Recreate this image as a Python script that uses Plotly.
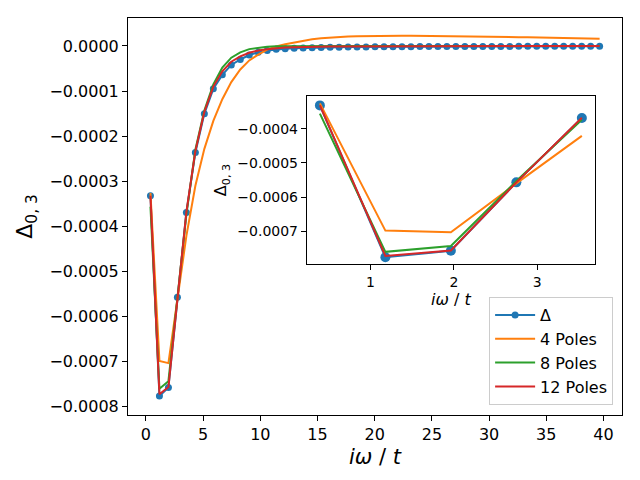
import numpy as np
import plotly.graph_objects as go

# Matsubara frequencies, beta = 8  ->  w_n = (2n+1)*pi/8, n = 0..50
n = np.arange(51)
omega = (2 * n + 1) * np.pi / 8

delta = [-3.32e-4, -7.76e-4, -7.57e-4, -5.57e-4, -3.69e-4, -2.36e-4, -1.50e-4, -9.5e-5, -6.4e-5, -4.2e-5,
         -3.0e-5, -2.0e-5, -1.4e-5, -1.0e-5, -7.5e-6, -6.0e-6, -5.0e-6, -4.3e-6, -3.8e-6, -3.4e-6,
         -3.0e-6, -2.7e-6, -2.5e-6, -2.3e-6, -2.1e-6, -1.9e-6, -1.8e-6, -1.7e-6, -1.6e-6, -1.5e-6,
         -1.4e-6, -1.35e-6, -1.3e-6, -1.25e-6, -1.2e-6, -1.15e-6, -1.1e-6, -1.05e-6, -1.0e-6, -0.95e-6,
         -0.9e-6, -0.87e-6, -0.84e-6, -0.81e-6, -0.78e-6, -0.75e-6, -0.72e-6, -0.69e-6, -0.66e-6, -0.63e-6,
         -0.6e-6]
poles4 = [-3.26e-4, -6.98e-4, -7.03e-4, -5.60e-4, -4.21e-4, -3.10e-4, -2.28e-4, -1.66e-4, -1.18e-4, -8.0e-5,
          -5.2e-5, -3.2e-5, -1.9e-5, -8.0e-6, -1.0e-6, 4.0e-6, 8.0e-6, 1.2e-5, 1.5e-5, 1.72e-5,
          1.88e-5, 2.0e-5, 2.1e-5, 2.15e-5, 2.2e-5, 2.22e-5, 2.24e-5, 2.25e-5, 2.25e-5, 2.25e-5,
          2.24e-5, 2.23e-5, 2.21e-5, 2.19e-5, 2.17e-5, 2.15e-5, 2.12e-5, 2.09e-5, 2.06e-5, 2.03e-5,
          2.0e-5, 1.96e-5, 1.92e-5, 1.88e-5, 1.84e-5, 1.80e-5, 1.76e-5, 1.72e-5, 1.68e-5, 1.64e-5,
          1.60e-5]
poles8 = [-3.56e-4, -7.60e-4, -7.43e-4, -5.53e-4, -3.74e-4, -2.30e-4, -1.43e-4, -8.5e-5, -4.8e-5, -2.6e-5,
          -1.4e-5, -7.0e-6, -3.5e-6, -1.5e-6, -0.5e-6, -0.3e-6, -0.2e-6, -0.2e-6, -0.2e-6, -0.2e-6,
          -0.2e-6, -0.2e-6, -0.2e-6, -0.2e-6, -0.2e-6, -0.2e-6, -0.2e-6, -0.2e-6, -0.2e-6, -0.2e-6,
          -0.2e-6, -0.2e-6, -0.2e-6, -0.2e-6, -0.2e-6, -0.2e-6, -0.2e-6, -0.2e-6, -0.2e-6, -0.2e-6,
          -0.2e-6, -0.2e-6, -0.2e-6, -0.2e-6, -0.2e-6, -0.2e-6, -0.2e-6, -0.2e-6, -0.2e-6, -0.2e-6,
          -0.2e-6]
poles12 = [-3.32e-4, -7.72e-4, -7.56e-4, -5.57e-4, -3.68e-4, -2.33e-4, -1.46e-4, -9.0e-5, -5.6e-5, -3.5e-5,
           -2.3e-5, -1.5e-5, -1.0e-5, -7.0e-6, -5.0e-6, -3.6e-6, -2.7e-6, -2.0e-6, -1.6e-6, -1.3e-6,
           -1.1e-6, -0.9e-6, -0.8e-6, -0.7e-6, -0.6e-6, -0.5e-6, -0.5e-6, -0.4e-6, -0.4e-6, -0.4e-6,
           -0.3e-6, -0.3e-6, -0.3e-6, -0.3e-6, -0.3e-6, -0.3e-6, -0.3e-6, -0.3e-6, -0.3e-6, -0.3e-6,
           -0.3e-6, -0.3e-6, -0.3e-6, -0.3e-6, -0.3e-6, -0.3e-6, -0.3e-6, -0.3e-6, -0.3e-6, -0.3e-6,
           -0.3e-6]

n_inset = 5
colors = ['#1f77b4', '#ff7f0e', '#2ca02c', '#d62728']
names = ['Δ', '4 Poles', '8 Poles', '12 Poles']
series = [delta, poles4, poles8, poles12]

fig = go.Figure()
for i, (name, ys) in enumerate(zip(names, series)):
    mode = 'lines+markers' if i == 0 else 'lines'
    fig.add_trace(go.Scatter(x=omega, y=ys, name=name, mode=mode,
                             line=dict(color=colors[i], width=2),
                             marker=dict(size=7, color=colors[i])))
# inset: first few frequencies only
for i, ys in enumerate(series):
    mode = 'lines+markers' if i == 0 else 'lines'
    fig.add_trace(go.Scatter(x=omega[:n_inset], y=ys[:n_inset], mode=mode, showlegend=False,
                             line=dict(color=colors[i], width=2),
                             marker=dict(size=10, color=colors[i]),
                             xaxis='x2', yaxis='y2'))

axis_style = dict(showline=True, linecolor='black', linewidth=1, mirror=True,
                  ticks='outside', ticklen=5, tickwidth=1, tickcolor='black',
                  showgrid=False, zeroline=False)

# page body adds an 8px offset, so margins are shifted to compensate
fig.update_layout(
    width=640, height=480,
    margin=dict(l=120, r=26, t=10, b=73),
    paper_bgcolor='white', plot_bgcolor='white',
    font=dict(family='DejaVu Sans', color='black'),
    xaxis=dict(range=[-1.57, 41.62], dtick=5, tick0=0, domain=[0, 1],
               tickfont=dict(size=16),
               title=dict(text='<i>iω</i> / <i>t</i>', font=dict(size=21), standoff=6),
               **axis_style),
    yaxis=dict(range=[-0.000818, 0.000062], dtick=0.0001, tick0=0, tickformat='.4f',
               tickfont=dict(size=16),
               title=dict(text='Δ<sub>0, 3</sub>', font=dict(size=22), standoff=10),
               **axis_style),
    xaxis2=dict(range=[0.236, 3.69], dtick=1, tick0=0, domain=[0.362, 0.945], anchor='y2',
                tickfont=dict(size=14),
                title=dict(text='<i>iω</i> / <i>t</i>', font=dict(size=16), standoff=4),
                **axis_style),
    yaxis2=dict(range=[-0.000796, -0.000304], dtick=0.0001, tick0=0, tickformat='.4f',
                domain=[0.380, 0.804], anchor='x2',
                tickfont=dict(size=14),
                title=dict(text='Δ<sub>0, 3</sub>', font=dict(size=16), standoff=6),
                **axis_style),
    legend=dict(x=0.982, y=0.025, xanchor='right', yanchor='bottom',
                bgcolor='rgba(255,255,255,0.8)', bordercolor='#cccccc', borderwidth=1,
                font=dict(size=16), tracegroupgap=0, itemwidth=40),
)

fig.write_html("out.html")
